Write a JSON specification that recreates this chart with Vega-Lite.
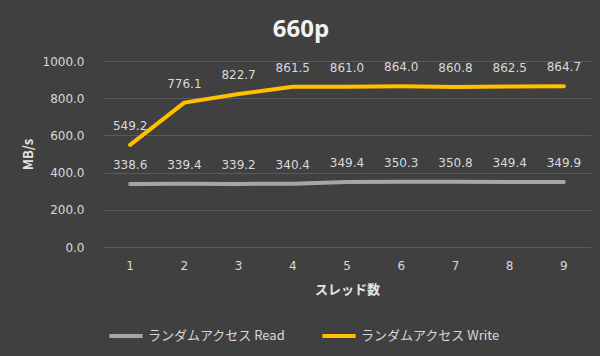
{
  "$schema": "https://vega.github.io/schema/vega-lite/v6.json",
  "autosize": {"type": "none"},
  "width": 488,
  "height": 186,
  "padding": {"left": 103, "top": 61, "right": 9, "bottom": 109},
  "background": "#404040",
  "title": {
    "text": "660p",
    "fontSize": 24,
    "fontWeight": "bold",
    "color": "#f2f2f2",
    "font": "Open Sans",
    "anchor": "middle",
    "dx": -46,
    "offset": 13
  },
  "config": {
    "view": {"stroke": null},
    "font": "Noto Sans CJK JP",
    "axis": {"labelColor": "#d9d9d9", "titleColor": "#e6e6e6", "labelFont": "DejaVu Sans"}
  },
  "data": {
    "values": [
      {"threads": "1", "series": "ランダムアクセス Read", "mbs": 338.6},
      {"threads": "2", "series": "ランダムアクセス Read", "mbs": 339.4},
      {"threads": "3", "series": "ランダムアクセス Read", "mbs": 339.2},
      {"threads": "4", "series": "ランダムアクセス Read", "mbs": 340.4},
      {"threads": "5", "series": "ランダムアクセス Read", "mbs": 349.4},
      {"threads": "6", "series": "ランダムアクセス Read", "mbs": 350.3},
      {"threads": "7", "series": "ランダムアクセス Read", "mbs": 350.8},
      {"threads": "8", "series": "ランダムアクセス Read", "mbs": 349.4},
      {"threads": "9", "series": "ランダムアクセス Read", "mbs": 349.9},
      {"threads": "1", "series": "ランダムアクセス Write", "mbs": 549.2},
      {"threads": "2", "series": "ランダムアクセス Write", "mbs": 776.1},
      {"threads": "3", "series": "ランダムアクセス Write", "mbs": 822.7},
      {"threads": "4", "series": "ランダムアクセス Write", "mbs": 861.5},
      {"threads": "5", "series": "ランダムアクセス Write", "mbs": 861.0},
      {"threads": "6", "series": "ランダムアクセス Write", "mbs": 864.0},
      {"threads": "7", "series": "ランダムアクセス Write", "mbs": 860.8},
      {"threads": "8", "series": "ランダムアクセス Write", "mbs": 862.5},
      {"threads": "9", "series": "ランダムアクセス Write", "mbs": 864.7}
    ]
  },
  "encoding": {
    "x": {
      "field": "threads",
      "type": "ordinal",
      "scale": {"type": "band", "paddingInner": 0, "paddingOuter": 0},
      "axis": {
        "title": "スレッド数",
        "titleFontSize": 13,
        "titleFontWeight": "bold",
        "titlePadding": 12,
        "labelAngle": 0,
        "labelFontSize": 12,
        "labelPadding": 13,
        "domain": false,
        "ticks": false,
        "grid": false
      }
    },
    "y": {
      "field": "mbs",
      "type": "quantitative",
      "scale": {"domain": [0, 1000]},
      "axis": {
        "title": "MB/s",
        "titleFontSize": 13,
        "titleFontWeight": "bold",
        "titleX": -75,
        "titleY": 93,
        "titleAlign": "center",
        "titleBaseline": "middle",
        "titleAngle": -90,
        "values": [0, 200, 400, 600, 800, 1000],
        "format": ".1f",
        "labelFontSize": 12,
        "labelPadding": 19,
        "domain": false,
        "ticks": false,
        "grid": true,
        "gridColor": "#5a5a5a",
        "gridWidth": 1
      }
    },
    "color": {
      "field": "series",
      "type": "nominal",
      "scale": {
        "domain": ["ランダムアクセス Read", "ランダムアクセス Write"],
        "range": ["#a6a6a6", "#ffc000"]
      },
      "legend": {
        "title": null,
        "orient": "none",
        "direction": "horizontal",
        "legendX": 4,
        "legendY": 256,
        "symbolType": "stroke",
        "symbolSize": 1100,
        "symbolStrokeWidth": 4,
        "labelFontSize": 13,
        "labelColor": "#d9d9d9",
        "labelOffset": 3,
        "columnPadding": 28,
        "labelLimit": 300
      }
    }
  },
  "layer": [
    {
      "mark": {"type": "line", "strokeWidth": 4, "strokeCap": "round", "strokeJoin": "round"}
    },
    {
      "mark": {"type": "text", "dy": -19, "fontSize": 12, "font": "DejaVu Sans", "color": "#d9d9d9"},
      "encoding": {
        "text": {"field": "mbs", "type": "quantitative", "format": ".1f"},
        "color": {"value": "#d9d9d9"}
      }
    }
  ]
}
